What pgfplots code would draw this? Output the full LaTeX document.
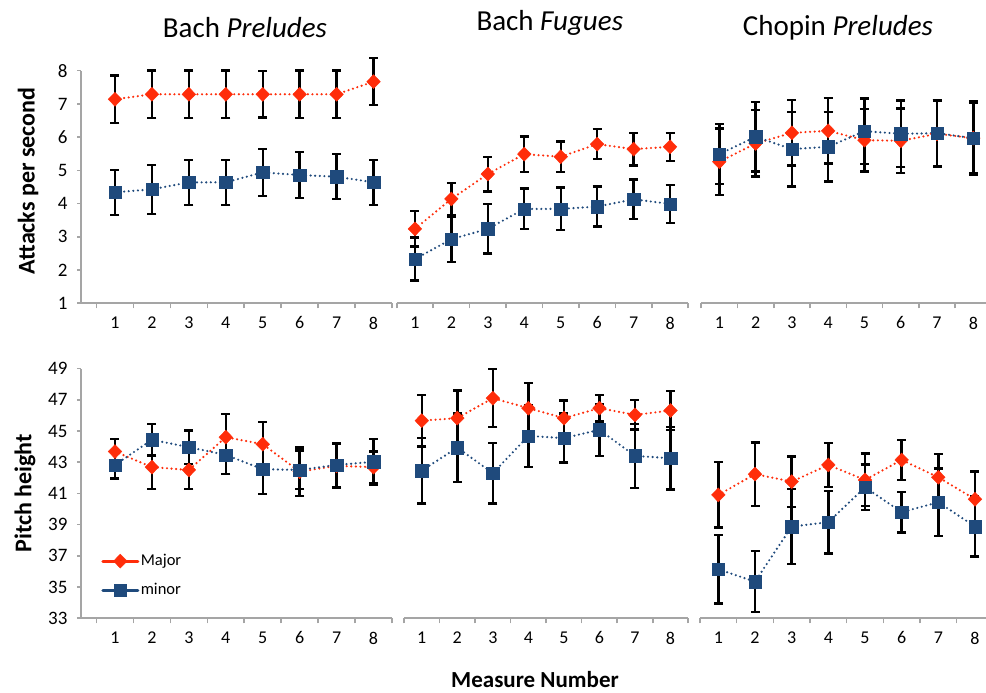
\documentclass[border=0pt]{standalone}
\usepackage{fontspec}
\setmainfont{Carlito}
\usepackage{pgfplots}
\pgfplotsset{compat=1.18}
\definecolor{majc}{RGB}{255,45,10}
\definecolor{minc}{RGB}{31,74,124}
\definecolor{axg}{RGB}{165,165,165}

\pgfplotsset{
 panel/.style={
  scale only axis, anchor=south west, clip=false,
  axis x line*=bottom,
  x axis line style={axg, line width=1.6pt},
  y axis line style={axg, line width=1.6pt},
  xtick={1,...,8}, major x tick style={draw=none},
  minor xtick={0.5,1.5,...,8.5},
  minor x tick style={axg, line width=1.6pt},
  minor tick length=5pt, major tick length=4pt,
  tick align=outside,
  xticklabel style={font=\fontsize{18}{20}\selectfont, yshift=-6pt},
  yticklabel style={font=\fontsize{19}{21}\selectfont, xshift=-6pt},
  y tick style={axg, line width=1.6pt},
  /pgf/number format/assume math mode=true,
  title style={font=\fontsize{29}{32}\selectfont, anchor=center},
  ylabel style={font=\bfseries\fontsize{24}{26}\selectfont, anchor=center},
 },
 noy/.style={axis y line=none, ytick=\empty},
 withy/.style={axis y line*=left},
 toprow/.style={height=232.6pt, ymin=1, ymax=8},
 botrow/.style={height=249.6pt, ymin=33, ymax=49},
 majplot/.style={color=majc, line width=2.4pt, dash pattern=on 0pt off 4.6pt, line cap=round,
  mark=diamond*, mark size=7pt,
  mark options={solid, fill=majc, draw=majc, line width=0.4pt, xscale=1.3},
  error bars/.cd, y dir=both, y explicit,
  error bar style={black, line width=2.4pt, solid, line cap=butt},
  error mark options={black, rotate=90, mark size=4.5pt, line width=2.4pt, solid}},
 minplot/.style={color=minc, line width=2.4pt, dash pattern=on 0pt off 4.6pt, line cap=round,
  mark=square*, mark size=6.2pt,
  mark options={solid, fill=minc, draw=minc, line width=0.4pt},
  error bars/.cd, y dir=both, y explicit,
  error bar style={black, line width=2.4pt, solid, line cap=butt},
  error mark options={black, rotate=90, mark size=4.5pt, line width=2.4pt, solid}},
}

\begin{document}
\begin{tikzpicture}[x=1pt,y=1pt]
\path[use as bounding box] (0pt,0pt) rectangle (986pt,693pt);

% ---------- Top left: Bach Preludes, attacks
\begin{axis}[panel, withy, toprow, at={(81pt,389.7pt)}, width=311pt, xmin=0.08, xmax=8.5,
  ytick={1,...,8},
  title={Bach \textit{Preludes}}, title style={at={(axis description cs:0.527,1.158)}},
  ylabel={Attacks per second}, ylabel style={at={(axis description cs:-0.17,0.526)}}]
\addplot[majplot] coordinates {(1,7.14) +- (0,0.72) (2,7.29) +- (0,0.71) (3,7.29) +- (0,0.71) (4,7.29) +- (0,0.71)
  (5,7.29) +- (0,0.70) (6,7.29) +- (0,0.71) (7,7.29) +- (0,0.71) (8,7.67) +- (0,0.71)};
\addplot[minplot] coordinates {(1,4.34) +- (0,0.68) (2,4.43) +- (0,0.74) (3,4.64) +- (0,0.68) (4,4.64) +- (0,0.68)
  (5,4.94) +- (0,0.71) (6,4.86) +- (0,0.70) (7,4.81) +- (0,0.68) (8,4.64) +- (0,0.68)};
\end{axis}

% ---------- Top middle: Bach Fugues, attacks
\begin{axis}[panel, noy, toprow, at={(396.7pt,389.7pt)}, width=291.6pt, xmin=0.5, xmax=8.5,
  title={Bach \textit{Fugues}}, title style={at={(axis description cs:0.525,1.179)}}]
\addplot[majplot] coordinates {(1,3.24) +- (0,0.53) (2,4.14) +- (0,0.48) (3,4.89) +- (0,0.52) (4,5.49) +- (0,0.53)
  (5,5.41) +- (0,0.46) (6,5.79) +- (0,0.45) (7,5.64) +- (0,0.49) (8,5.71) +- (0,0.42)};
\addplot[minplot] coordinates {(1,2.33) +- (0,0.65) (2,2.93) +- (0,0.68) (3,3.24) +- (0,0.74) (4,3.84) +- (0,0.61)
  (5,3.84) +- (0,0.64) (6,3.91) +- (0,0.60) (7,4.13) +- (0,0.59) (8,3.99) +- (0,0.57)};
\end{axis}

% ---------- Top right: Chopin Preludes, attacks
\begin{axis}[panel, noy, toprow, at={(701.2pt,389.7pt)}, width=284.8pt, xmin=0.5, xmax=8.35,
  title={Chopin \textit{Preludes}}, title style={at={(axis description cs:0.48,1.158)}}]
\addplot[majplot] coordinates {(1,5.26) +- (0,1.00) (2,5.81) +- (0,1.00) (3,6.13) +- (0,0.98) (4,6.19) +- (0,0.98)
  (5,5.91) +- (0,0.94) (6,5.89) +- (0,0.97) (7,6.10) +- (0,1.00) (8,5.97) +- (0,1.05)};
\addplot[minplot] coordinates {(1,5.49) +- (0,0.90) (2,6.01) +- (0,1.04) (3,5.64) +- (0,1.12) (4,5.71) +- (0,1.05)
  (5,6.18) +- (0,0.98) (6,6.10) +- (0,1.00) (7,6.12) +- (0,1.00) (8,5.97) +- (0,1.10)};
\end{axis}

% ---------- Bottom left: Bach Preludes, pitch
\begin{axis}[panel, withy, botrow, at={(81pt,74.7pt)}, width=311pt, xmin=0.08, xmax=8.5,
  ytick={33,35,...,49},
  ylabel={Pitch height}, ylabel style={at={(axis description cs:-0.18,0.5)}},
  legend style={at={(axis description cs:0.055,0.171)}, anchor=west, draw=none, fill=none,
    font=\fontsize{16.5}{18}\selectfont, row sep=12pt,
    nodes={text height=11pt, text depth=3pt, inner sep=1.5pt}},
  legend cell align=left,
  legend image code/.code={\draw[mark repeat=2, mark phase=2, #1, solid, line width=3pt]
     plot coordinates {(0pt,0pt) (17.5pt,0pt) (35pt,0pt)};}]
\addplot[majplot] coordinates {(1,43.69) +- (0,0.80) (2,42.69) +- (0,1.42) (3,42.51) +- (0,1.24) (4,44.61) +- (0,1.47)
  (5,44.16) +- (0,1.41) (6,42.40) +- (0,1.55) (7,42.77) +- (0,1.40) (8,42.69) +- (0,1.00)};
\addlegendentry{Major}
\addplot[minplot] coordinates {(1,42.83) +- (0,0.88) (2,44.44) +- (0,1.00) (3,43.97) +- (0,1.07) (4,43.47) +- (0,1.23)
  (5,42.56) +- (0,1.60) (6,42.51) +- (0,1.24) (7,42.83) +- (0,1.40) (8,43.03) +- (0,1.45)};
\addlegendentry{minor}
\end{axis}

% ---------- Bottom middle: Bach Fugues, pitch
\begin{axis}[panel, noy, botrow, at={(404pt,74.7pt)}, width=284.3pt, xmin=0.5, xmax=8.5]
\addplot[majplot] coordinates {(1,45.67) +- (0,1.65) (2,45.83) +- (0,1.77) (3,47.11) +- (0,1.86) (4,46.47) +- (0,1.60)
  (5,45.83) +- (0,1.13) (6,46.47) +- (0,0.85) (7,46.04) +- (0,0.95) (8,46.32) +- (0,1.25)};
\addplot[minplot] coordinates {(1,42.47) +- (0,2.10) (2,43.94) +- (0,2.20) (3,42.30) +- (0,1.95) (4,44.69) +- (0,2.00)
  (5,44.55) +- (0,1.57) (6,45.08) +- (0,1.67) (7,43.41) +- (0,2.05) (8,43.26) +- (0,2.00)};
\end{axis}

% ---------- Bottom right: Chopin Preludes, pitch
\begin{axis}[panel, noy, botrow, at={(700pt,74.7pt)}, width=286pt, xmin=0.5, xmax=8.3]
\addplot[majplot] coordinates {(1,40.91) +- (0,2.10) (2,42.24) +- (0,2.03) (3,41.76) +- (0,1.61) (4,42.83) +- (0,1.40)
  (5,41.87) +- (0,1.69) (6,43.15) +- (0,1.28) (7,42.04) +- (0,1.50) (8,40.63) +- (0,1.77)};
\addplot[minplot] coordinates {(1,36.14) +- (0,2.20) (2,35.35) +- (0,1.95) (3,38.88) +- (0,2.40) (4,39.16) +- (0,2.00)
  (5,41.40) +- (0,1.45) (6,39.80) +- (0,1.30) (7,40.44) +- (0,2.15) (8,38.88) +- (0,1.93)};
\end{axis}

\node[font=\bfseries\fontsize{23}{25}\selectfont] at (535pt,13pt) {Measure Number};
\end{tikzpicture}
\end{document}
